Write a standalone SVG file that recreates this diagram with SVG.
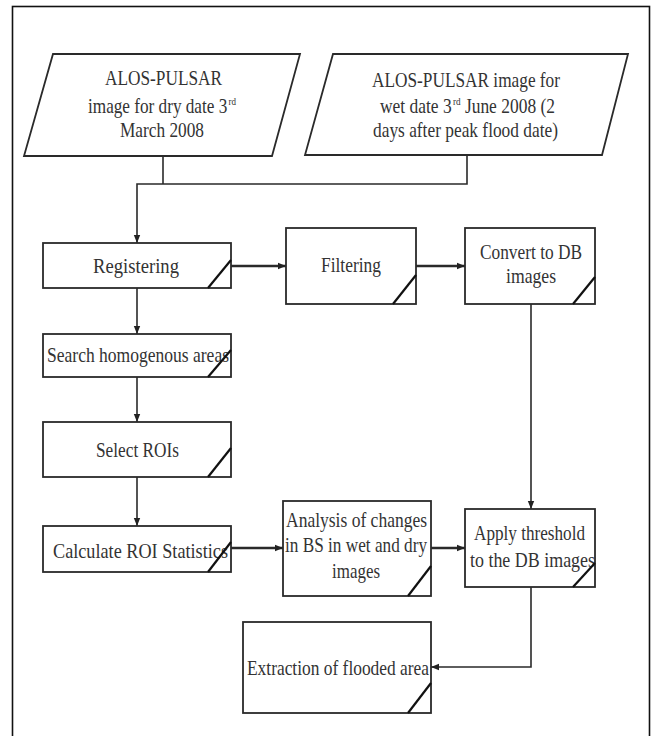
<svg xmlns="http://www.w3.org/2000/svg" width="651" height="736" viewBox="0 0 651 736">
<defs>
<marker id="ah" markerUnits="userSpaceOnUse" markerWidth="10" markerHeight="8" refX="8" refY="4" orient="auto">
<path d="M0,0.8 L8,4 L0,7.2 Z" fill="#222"/>
</marker>
<style>
.box{fill:#fff;stroke:#2a2a2a;stroke-width:1.8}
.sl{stroke:#111;stroke-width:2.2;fill:none}
.cn{stroke:#2a2a2a;stroke-width:1.6;fill:none}
.thick{stroke-width:2.4}
text{font-family:"Liberation Serif","Times New Roman",serif;font-size:21px;fill:#333}
.sup{font-size:11px}
</style>
</defs>
<rect x="0" y="0" width="651" height="736" fill="#fff"/>
<rect x="12.5" y="6.5" width="637" height="745" fill="none" stroke="#111" stroke-width="1.6"/>

<g id="connectors">
<path class="cn" d="M163,156 V184"/>
<path class="cn" d="M467,155 V184 H137 V243" marker-end="url(#ah)"/>
<path class="cn thick" d="M231,266 H286" marker-end="url(#ah)"/>
<path class="cn thick" d="M416,266 H465" marker-end="url(#ah)"/>
<path class="cn" d="M137,288 V334" marker-end="url(#ah)"/>
<path class="cn" d="M137,377 V422" marker-end="url(#ah)"/>
<path class="cn" d="M137,477 V526" marker-end="url(#ah)"/>
<path class="cn thick" d="M231,548 H283" marker-end="url(#ah)"/>
<path class="cn thick" d="M431,548 H465" marker-end="url(#ah)"/>
<path class="cn" d="M531,304 V509" marker-end="url(#ah)"/>
<path class="cn" d="M531,587 V667 H431" marker-end="url(#ah)"/>
</g>

<g id="dry">
<polygon class="box" points="53,54 300,54 272,156 24,156"/>
<text x="105" y="85" textLength="117" lengthAdjust="spacingAndGlyphs">ALOS-PULSAR</text>
<text x="88" y="113" textLength="148" lengthAdjust="spacingAndGlyphs">image for dry date 3<tspan class="sup" dx="1.5" dy="-8">rd</tspan></text>
<text x="120" y="137" textLength="84" lengthAdjust="spacingAndGlyphs">March 2008</text>
</g>

<g id="wet">
<polygon class="box" points="333,54 628,54 602,155 305,155"/>
<text x="372" y="87" textLength="188" lengthAdjust="spacingAndGlyphs">ALOS-PULSAR image for</text>
<text x="380" y="113" textLength="175" lengthAdjust="spacingAndGlyphs">wet date 3<tspan class="sup" dx="1.5" dy="-8">rd</tspan><tspan dy="8"> June 2008 (2</tspan></text>
<text x="373" y="137" textLength="185" lengthAdjust="spacingAndGlyphs">days after peak flood date)</text>
</g>

<g id="registering">
<rect class="box" x="43" y="243" width="188" height="45"/>
<path class="sl" d="M208,288 L231,260"/>
<text x="93" y="273" textLength="86" lengthAdjust="spacingAndGlyphs">Registering</text>
</g>

<g id="filtering">
<rect class="box" x="286" y="228" width="130" height="76"/>
<path class="sl" d="M393,304 L416,275"/>
<text x="321" y="272" textLength="60" lengthAdjust="spacingAndGlyphs">Filtering</text>
</g>

<g id="convert">
<rect class="box" x="465" y="228" width="130" height="76"/>
<path class="sl" d="M573,304 L595,277"/>
<text x="480" y="259" textLength="102" lengthAdjust="spacingAndGlyphs">Convert to DB</text>
<text x="506" y="283" textLength="50" lengthAdjust="spacingAndGlyphs">images</text>
</g>

<g id="search">
<rect class="box" x="43" y="334" width="188" height="43"/>
<text x="47" y="362" textLength="182" lengthAdjust="spacingAndGlyphs">Search homogenous areas</text>
<path class="sl" d="M208,377 L231,350"/>
</g>

<g id="select">
<rect class="box" x="43" y="422" width="188" height="55"/>
<path class="sl" d="M208,477 L231,448"/>
<text x="96" y="457" textLength="83" lengthAdjust="spacingAndGlyphs">Select ROIs</text>
</g>

<g id="calculate">
<rect class="box" x="43" y="526" width="188" height="46"/>
<text x="53" y="558" textLength="175" lengthAdjust="spacingAndGlyphs">Calculate ROI Statistics</text>
<path class="sl" d="M208,572 L231,542"/>
</g>

<g id="analysis">
<rect class="box" x="283" y="501" width="148" height="95"/>
<path class="sl" d="M408,596 L431,566"/>
<text x="286" y="527" textLength="141" lengthAdjust="spacingAndGlyphs">Analysis of changes</text>
<text x="285" y="552" textLength="142" lengthAdjust="spacingAndGlyphs">in BS in wet and dry</text>
<text x="332" y="578" textLength="48" lengthAdjust="spacingAndGlyphs">images</text>
</g>

<g id="apply">
<rect class="box" x="465" y="509" width="130" height="78"/>
<text x="474" y="540" textLength="111" lengthAdjust="spacingAndGlyphs">Apply threshold</text>
<text x="470" y="567" textLength="125" lengthAdjust="spacingAndGlyphs">to the DB images</text>
<path class="sl" d="M573,587 L595,563"/>
</g>

<g id="extraction">
<rect class="box" x="243" y="622" width="188" height="91"/>
<path class="sl" d="M408,713 L431,683"/>
<text x="247" y="675" textLength="182" lengthAdjust="spacingAndGlyphs">Extraction of flooded area</text>
</g>
</svg>
